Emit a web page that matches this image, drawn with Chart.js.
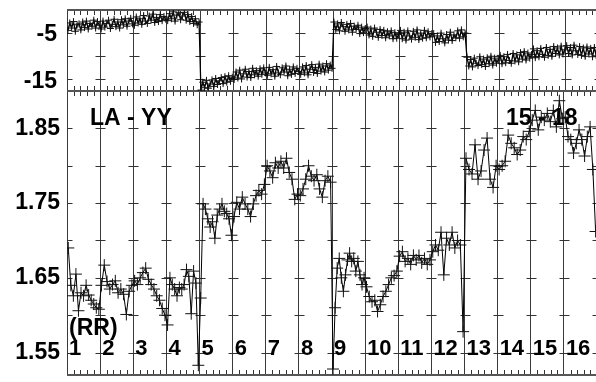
<!DOCTYPE html>
<html>
<head>
<meta charset="utf-8">
<script src="https://cdn.jsdelivr.net/npm/chart.js@4.4.1/dist/chart.umd.min.js"></script>
<style>
  html, body { margin: 0; padding: 0; background: #fff; overflow: hidden; }
  #wrap { position: relative; width: 596px; height: 382px; overflow: hidden; }
  #wrap canvas { position: absolute; left: 0; top: 0; }
</style>
</head>
<body>
<div id="wrap">
  <canvas id="bottomPanel" width="604" height="382"></canvas>
  <canvas id="topPanel" width="604" height="382"></canvas>
</div>
<script>
// segment numbers written along the bottom
const segmentLabels = ['1', '2', '3', '4', '5', '6', '7', '8', '9', '10', '11', '12', '13', '14', '15', '16'];

// y axis labels and cross marks
const topTickLabels = [-5, -15];
const topCrossTicks = [-5, -10, -15];
const bottomTickLabels = [1.55, 1.65, 1.75, 1.85];
const bottomCrossTicks = [1.55, 1.60, 1.65, 1.70, 1.75, 1.80, 1.85];

// upper panel, one row per segment
const topValues = [
  [-4.4, -2.8, -3.9, -2.5, -4.6, -3.2, -3.0, -4.3, -2.6, -3.8, -2.4, -4.1, -2.9, -3.5, -2.2, -3.9, -2.5, -3.3],
  [-4.1, -2.4, -3.7, -2.9, -2.2, -4.0, -3.1, -2.0, -3.6, -2.6, -3.9, -2.1, -3.2, -1.9, -3.5, -2.4, -1.8, -3.0],
  [-3.3, -1.5, -2.8, -1.9, -3.1, -1.2, -2.4, -2.9, -1.3, -2.2, -0.9, -2.7, -1.6, -2.5, -1.0, -2.3, -1.4, -2.0],
  [-2.3, -0.8, -1.9, -0.4, -2.4, -1.1, -0.6, -2.1, -1.3, -0.5, -2.2, -1.0, -2.5, -1.4, -2.9, -1.9, -3.2, -2.6],
  [-17.3, -15.6, -16.8, -15.2, -16.9, -16.0, -15.1, -16.5, -14.8, -16.1, -15.3, -14.6, -15.9, -14.4, -15.6, -14.2, -15.4, -14.5],
  [-15.0, -13.4, -14.7, -13.0, -14.9, -13.8, -12.8, -14.5, -13.3, -14.6, -12.6, -14.0, -13.1, -14.3, -12.7, -13.9, -12.5, -13.6],
  [-14.1, -12.4, -13.8, -12.9, -14.3, -12.2, -13.6, -14.0, -12.5, -13.4, -12.1, -14.2, -12.8, -13.9, -12.3, -13.7, -12.6, -13.3],
  [-13.9, -12.3, -13.6, -12.0, -14.0, -12.8, -11.8, -13.5, -12.4, -13.7, -11.7, -13.2, -12.1, -13.4, -11.6, -13.0, -11.9, -12.6],
  [-2.6, -4.2, -3.0, -4.5, -2.7, -3.6, -4.6, -3.1, -4.3, -2.9, -4.8, -3.5, -4.2, -3.3, -5.1, -3.7, -4.9, -4.0],
  [-3.7, -5.4, -4.1, -5.7, -3.9, -4.8, -5.9, -4.2, -5.5, -4.4, -6.0, -4.7, -5.6, -4.5, -6.2, -4.9, -6.1, -5.3],
  [-4.4, -6.2, -4.8, -6.5, -4.5, -5.6, -6.3, -4.6, -5.9, -4.3, -6.4, -5.0, -6.1, -4.4, -6.0, -4.7, -5.8, -5.1],
  [-5.1, -7.0, -5.6, -6.8, -5.0, -6.2, -7.1, -5.3, -6.5, -4.8, -6.6, -5.4, -6.0, -4.5, -6.1, -4.3, -5.8, -5.0],
  [-10.2, -12.1, -10.7, -12.3, -10.4, -11.5, -12.0, -10.1, -11.8, -10.6, -12.2, -10.3, -11.6, -10.0, -11.9, -10.4, -11.5, -10.8],
  [-9.8, -11.6, -10.1, -11.4, -9.6, -10.9, -11.5, -9.4, -11.0, -9.7, -11.2, -9.2, -10.6, -9.0, -10.8, -9.3, -10.4, -9.6],
  [-8.4, -10.3, -8.8, -10.1, -8.3, -9.6, -10.2, -8.1, -9.8, -8.5, -10.0, -7.9, -9.4, -8.2, -9.7, -7.8, -9.5, -8.6],
  [-7.7, -9.4, -8.1, -9.7, -7.6, -8.8, -9.6, -7.9, -9.8, -8.2, -10.0, -8.0, -9.5, -8.3, -10.1, -8.1, -9.9, -8.8]
];

// lower panel, one row per segment
const bottomValues = [
  [1.690, 1.640, 1.626, 1.655, 1.606, 1.630, 1.626, 1.640, 1.627, 1.620, 1.615, 1.610, 1.608],
  [1.640, 1.667, 1.645, 1.635, 1.641, 1.646, 1.630, 1.635, 1.628, 1.601, 1.632, 1.640],
  [1.646, 1.641, 1.650, 1.657, 1.663, 1.648, 1.641, 1.635, 1.626, 1.620, 1.609, 1.600],
  [1.587, 1.650, 1.641, 1.635, 1.626, 1.637, 1.635, 1.641, 1.661, 1.652, 1.602, 1.659, 1.643, 1.533],
  [1.623, 1.749, 1.742, 1.729, 1.718, 1.725, 1.703, 1.734, 1.742, 1.749, 1.739, 1.736, 1.729, 1.707],
  [1.732, 1.751, 1.742, 1.758, 1.749, 1.742, 1.732, 1.749, 1.760, 1.767, 1.762, 1.775],
  [1.800, 1.793, 1.784, 1.804, 1.797, 1.806, 1.797, 1.810, 1.791, 1.782, 1.755, 1.762],
  [1.760, 1.769, 1.782, 1.800, 1.786, 1.780, 1.788, 1.769, 1.758, 1.780, 1.786, 1.778],
  [1.528, 1.610, 1.663, 1.676, 1.650, 1.632, 1.654, 1.674, 1.683, 1.672, 1.676, 1.659, 1.672, 1.654, 1.641, 1.650],
  [1.638, 1.625, 1.618, 1.620, 1.605, 1.614, 1.625, 1.632, 1.641, 1.650, 1.653, 1.659],
  [1.679, 1.685, 1.672, 1.676, 1.668, 1.680, 1.674, 1.680, 1.670, 1.676, 1.668, 1.674],
  [1.685, 1.694, 1.687, 1.711, 1.654, 1.703, 1.694, 1.711, 1.690, 1.700, 1.694, 1.578],
  [1.810, 1.795, 1.789, 1.828, 1.782, 1.793, 1.821, 1.837, 1.782, 1.771, 1.800],
  [1.795, 1.800, 1.806, 1.841, 1.830, 1.824, 1.815, 1.821, 1.839, 1.835, 1.846],
  [1.861, 1.874, 1.848, 1.865, 1.861, 1.870, 1.859, 1.874, 1.852, 1.887, 1.863],
  [1.865, 1.839, 1.835, 1.817, 1.830, 1.848, 1.835, 1.813, 1.839, 1.852, 1.795, 1.712]
];

const FONT = 'Liberation Sans, Arial, sans-serif';

// spread each segment's values evenly across its slot on the x axis
function toPoints(rows) {
  const pts = [];
  rows.forEach((row, s) => {
    row.forEach((v, k) => pts.push({ x: s + (k + 0.5) / row.length, y: v }));
  });
  return pts;
}

function noPad(s) {
  s.paddingTop = 0; s.paddingBottom = 0; s.paddingLeft = 0; s.paddingRight = 0;
}

// frame, minor ticks, cross marks and text
const framePlugin = {
  id: 'frame',
  beforeDatasetsDraw(chart, args, opts) {
    const { ctx, chartArea: a, scales: { x, y } } = chart;
    ctx.save();
    ctx.strokeStyle = '#333';
    ctx.lineWidth = 1;
    ctx.beginPath();
    for (let s = 0; s < 16; s++) {
      for (let k = 1; k < 5; k++) {
        const px = Math.round(x.getPixelForValue(s + k / 5)) + 0.5;
        ctx.moveTo(px, a.top); ctx.lineTo(px, a.top + 5);
        ctx.moveTo(px, a.bottom); ctx.lineTo(px, a.bottom - 5);
      }
    }
    for (let s = 0; s <= 16; s++) {
      const px = Math.round(x.getPixelForValue(s)) + 0.5;
      opts.crosses.forEach(v => {
        const py = Math.round(y.getPixelForValue(v)) + 0.5;
        ctx.moveTo(Math.max(px - 5, a.left), py);
        ctx.lineTo(px + 5, py);
      });
    }
    ctx.stroke();

    ctx.strokeStyle = '#555';
    ctx.lineWidth = 2;
    ctx.beginPath();
    ctx.moveTo(a.left, a.top); ctx.lineTo(a.right, a.top);
    ctx.moveTo(a.left, a.bottom); ctx.lineTo(a.right, a.bottom);
    ctx.stroke();

    ctx.fillStyle = '#000';
    ctx.textAlign = 'left';
    ctx.textBaseline = 'alphabetic';
    (opts.texts || []).forEach(t => {
      ctx.font = 'bold ' + t.size + 'px ' + FONT;
      ctx.fillText(t.text, a.left + t.dx, a.top + t.dy);
    });
    if (opts.segments) {
      ctx.font = 'bold 22px ' + FONT;
      opts.segments.forEach((lab, s) => {
        ctx.fillText(lab, x.getPixelForValue(s) + 2, a.bottom - 20);
      });
    }
    ctx.restore();
  }
};

function makePanel(id, rows, yMin, yMax, labels, crosses, pad, radius, lineW, labelPad, labelOffset, fmt, frameOpts) {
  return new Chart(document.getElementById(id), {
    type: 'line',
    data: {
      datasets: [{
        data: toPoints(rows),
        borderColor: '#000',
        borderWidth: lineW,
        pointStyle: 'cross',
        pointRadius: radius,
        pointBorderColor: '#111',
        pointBorderWidth: 1,
        tension: 0
      }]
    },
    options: {
      responsive: false,
      animation: false,
      layout: { padding: pad },
      plugins: {
        legend: { display: false },
        tooltip: { enabled: false },
        frame: Object.assign({ crosses: crosses }, frameOpts)
      },
      scales: {
        x: {
          type: 'linear', min: 0, max: 16,
          afterFit: s => { s.height = 0; noPad(s); },
          ticks: { display: false, stepSize: 1 },
          grid: { color: '#3a3a3a', lineWidth: 1, drawTicks: false },
          border: { display: false }
        },
        y: {
          min: yMin, max: yMax,
          afterFit: s => { s.width = 67; noPad(s); },
          afterBuildTicks: s => { s.ticks = labels.map(v => ({ value: v })); },
          grid: { display: false, drawTicks: false },
          border: { display: false },
          ticks: {
            color: '#000',
            padding: labelPad,
            labelOffset: labelOffset,
            font: { family: FONT, size: 23, weight: 'bold' },
            callback: fmt
          }
        }
      }
    },
    plugins: [framePlugin]
  });
}

makePanel('topPanel', topValues, -17.5, 0, topTickLabels, topCrossTicks,
  { top: 10, bottom: 291, left: 0, right: 4 }, 3.5, 1.3, 10, 2, v => String(v), {});

makePanel('bottomPanel', bottomValues, 1.52, 1.90, bottomTickLabels, bottomCrossTicks,
  { top: 91, bottom: 3, left: 0, right: 4 }, 6, 1, 7, 0, v => v.toFixed(2), {
    segments: segmentLabels,
    texts: [
      { text: 'LA - YY', size: 23, dx: 23, dy: 34 },
      { text: '15 - 18', size: 23, dx: 439, dy: 34 },
      { text: '(RR)', size: 23, dx: 2, dy: 244 }
    ]
  });
</script>
</body>
</html>
